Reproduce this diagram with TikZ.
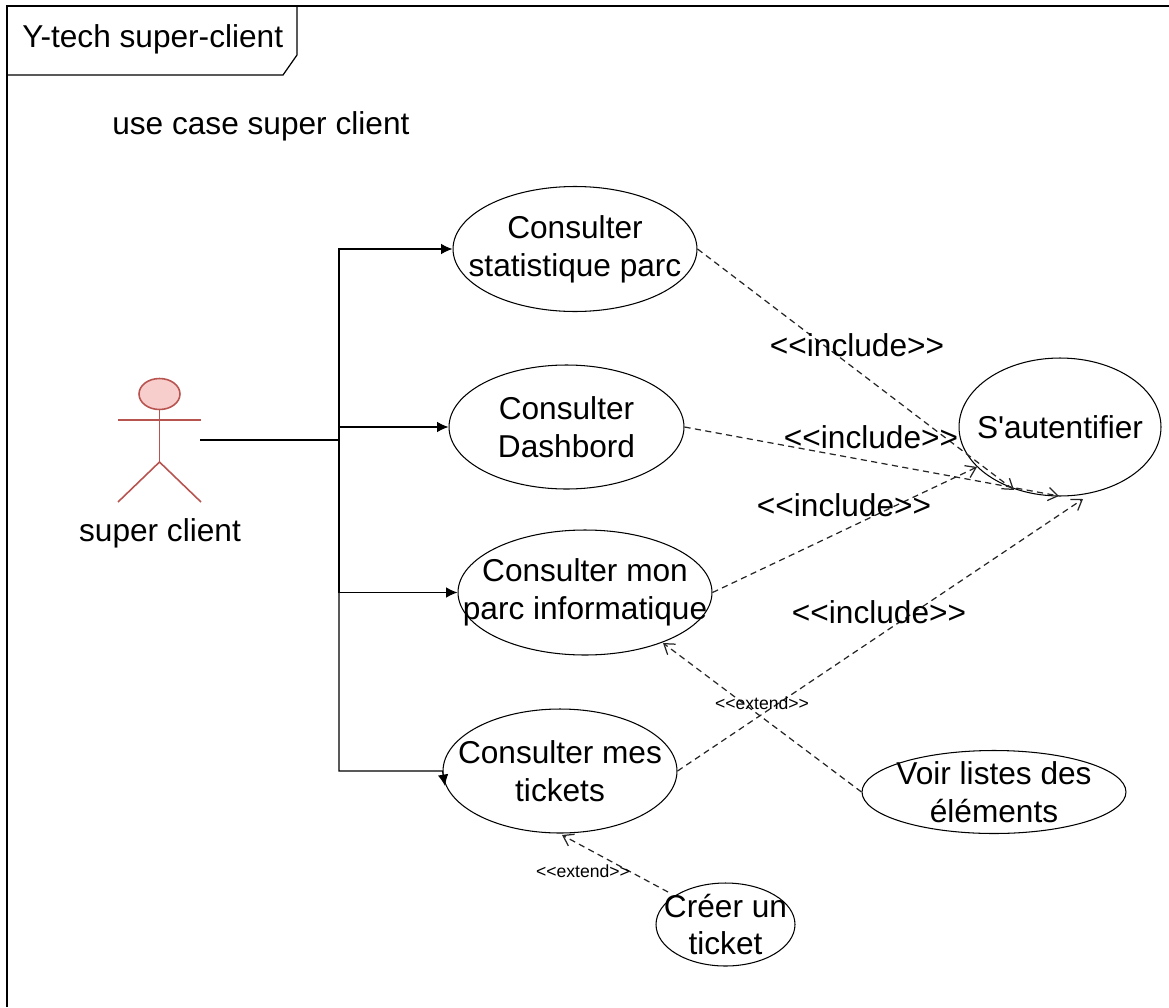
\documentclass[tikz,border=0pt]{standalone}
\usepackage{fontspec}
\setmainfont{Liberation Sans}[Ligatures={TeXOff,CommonOff}]
\usetikzlibrary{arrows.meta,shapes.geometric}
\definecolor{actorfill}{HTML}{F8CECC}
\definecolor{actorline}{HTML}{B85450}
\tikzset{
	txt/.style={font=\fontsize{18}{21.6}\selectfont, align=center, inner sep=0pt},
	small/.style={font=\fontsize{10}{12}\selectfont, inner sep=0pt},
	usecase/.style={ellipse, draw, inner sep=0pt, line width=0.6pt,
		label={[txt]center:#1}},
	assoc/.style={line width=0.6pt, -{Latex[length=6.5pt,width=6pt]}},
	dep/.style={line width=0.7pt, dashed, dash pattern=on 3.5pt off 2.5pt, black!85,
		-{Straight Barb[length=5.5pt,width=7.5pt]}},
	stick/.style={actorline, line width=0.9pt}
}
\begin{document}
\begin{tikzpicture}[x=0.02cm, y=-0.02cm]
	\useasboundingbox (0,0) rectangle (1169,1007);
	\draw[line width=0.7pt] (7,1007) -- (7,6) -- (1169,6);
	\draw[line width=0.7pt] (297,6) -- (297,55) -- (283,75) -- (7,75);
	\node[txt, anchor=west] (title) at (22,39) {Y-tech super-client};
	\node[txt, anchor=west] (subtitle) at (112,126) {use case super client};

	\node[usecase={Consulter\\statistique parc}, minimum width=4.88cm, minimum height=2.5cm] (stat) at (575,249) {};
	\node[usecase={Consulter\\Dashbord}, minimum width=4.7cm, minimum height=2.48cm] (dash) at (566.5,427) {};
	\node[usecase={Consulter mon\\parc informatique}, minimum width=5.08cm, minimum height=2.5cm] (parc) at (585,592.5) {};
	\node[usecase={Consulter mes\\tickets}, minimum width=4.68cm, minimum height=2.48cm] (tickets) at (560,771) {};
	\node[usecase={S'autentifier}, minimum width=4.04cm, minimum height=2.76cm] (auth) at (1060,427) {};
	\node[usecase={Voir listes des\\éléments}, minimum width=5.28cm, minimum height=1.66cm] (voir) at (994,792) {};
	\node[usecase={Créer un\\ticket}, minimum width=2.78cm, minimum height=1.66cm] (creer) at (725.5,924.5) {};

	\node[ellipse, draw=actorline, fill=actorfill, line width=0.9pt, inner sep=0pt,
		minimum width=0.82cm, minimum height=0.62cm] (head) at (159.5,394) {};
	\coordinate (hip) at (159.5,462);
	\draw[stick] (head) -- (hip);
	\draw[stick] (118,420) -- (201,420);
	\draw[stick] (118,502) -- (hip) -- (201,502);
	\node[txt] (actor) at (160,533) {super client};

	\coordinate (actorr) at (200,440);
	\coordinate (trunk) at (339,440);
	\coordinate (ticketin) at (445,786);
	\draw[line width=0.6pt] (actorr) -- (trunk);
	\draw[assoc] (trunk) |- (stat.west);
	\draw[assoc] (trunk) |- (dash.west);
	\draw[assoc] (trunk) |- (parc.west);
	\draw[assoc] (trunk) |- (tickets.west) -- (ticketin);

	\coordinate (e1) at (1014,490);
	\coordinate (e2) at (1059,496);
	\coordinate (e3) at (977,467);
	\coordinate (e4) at (1083,499);
	\coordinate (e5) at (663,643);
	\coordinate (e6) at (562,835);
	\coordinate (s6) at (668,892);
	\draw[dep] (stat.east) -- (e1);
	\draw[dep] (dash.east) -- (e2);
	\draw[dep] (parc.east) -- (e3);
	\draw[dep] (tickets.east) -- (e4);
	\draw[dep] (voir.west) -- (e5);
	\draw[dep] (s6) -- (e6);

	\foreach \name/\x/\y in {inca/857/345, incb/871/437, incc/844/505, incd/879/612}
		{
			\node[txt] (\name) at (\x,\y) {<<include>>};
		}
	\node[small] (exta) at (762,703) {<<extend>>};
	\node[small] (extb) at (583,871) {<<extend>>};
\end{tikzpicture}
\end{document}
